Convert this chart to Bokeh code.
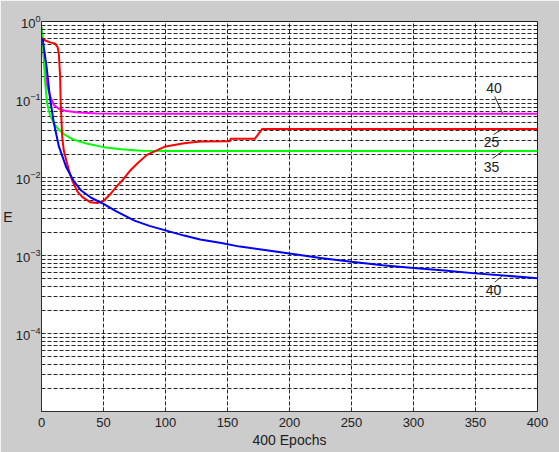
import numpy as np
from bokeh.plotting import figure
from bokeh.models import FixedTicker, LogTickFormatter
from bokeh.core.properties import value
from bokeh.embed import file_html
from bokeh.resources import INLINE

# ---- data ----
blue_epochs = [1, 2, 4, 7, 10, 14, 20, 26, 32, 40, 50, 60, 75, 87, 100, 115, 128, 145, 160,
               180, 200, 225, 250, 275, 300, 325, 350, 375, 400]
blue_values = [0.6, 0.45, 0.27, 0.1, 0.05, 0.025, 0.0135, 0.009, 0.0068, 0.0055, 0.0046,
               0.0037, 0.0028, 0.0024, 0.0021, 0.0018, 0.0016, 0.00145, 0.0013, 0.00118,
               0.00106, 0.00093, 0.00083, 0.00075, 0.00069, 0.00064, 0.00059, 0.00055, 0.00051]

pink_epochs = [0, 1, 2, 3, 4.5, 7, 10, 14, 20, 30, 45, 70, 400]
pink_values = [0.85, 0.55, 0.33, 0.22, 0.15, 0.11, 0.085, 0.076, 0.071, 0.068, 0.066, 0.0655, 0.0655]

green_epochs = [0, 1, 2, 3, 4.5, 7, 10, 14, 18, 25, 37, 50, 64, 80, 100, 400]
green_values = [0.85, 0.55, 0.3, 0.16, 0.09, 0.062, 0.049, 0.041, 0.036, 0.031, 0.027, 0.0245,
                0.023, 0.022, 0.0218, 0.0218]

red_epochs = [0, 3, 7, 11, 13, 14, 15, 15.5, 16.7, 18, 20.7, 23, 26, 29, 33, 39.5, 45, 50, 55,
              61, 66, 71, 77, 85, 100, 115, 128, 152, 152.5, 172, 178, 400]
red_values = [0.62, 0.57, 0.54, 0.52, 0.47, 0.38, 0.2, 0.09, 0.033, 0.022, 0.015, 0.011, 0.0083,
              0.0066, 0.0056, 0.0048, 0.0047, 0.005, 0.006, 0.0078, 0.0095, 0.012, 0.015, 0.0195,
              0.025, 0.0275, 0.029, 0.0292, 0.0313, 0.0313, 0.042, 0.042]

x_ticks = [0, 50, 100, 150, 200, 250, 300, 350, 400]
y_ticks = [1e-4, 1e-3, 1e-2, 1e-1, 1e0]
y_minor = [m * 10.0 ** e for e in range(-5, 0) for m in range(2, 10)]

curve_labels = ["40", "25", "35", "40"]
x_title = "400 Epochs"
y_title = "E"

GRAY = "#cccccc"
FONT = "Liberation Sans"

p = figure(frame_width=496, frame_height=390, y_axis_type="log",
           x_range=(0, 400), y_range=(1e-5, 1),
           output_backend="svg", toolbar_location=None,
           min_border_left=41, min_border_right=22, min_border_top=21, min_border_bottom=41,
           border_fill_color=GRAY, background_fill_color="white",
           outline_line_color="#202020", outline_line_width=1)

# grids
p.xgrid.ticker = FixedTicker(ticks=x_ticks)
p.ygrid.ticker = FixedTicker(ticks=y_ticks, minor_ticks=y_minor)
for g in (p.xgrid, p.ygrid):
    g.grid_line_color = "black"
    g.grid_line_dash = "4 2"
    g.grid_line_width = 1
    g.grid_line_alpha = 0.85
p.ygrid.minor_grid_line_color = "black"
p.ygrid.minor_grid_line_dash = "4 2"
p.ygrid.minor_grid_line_alpha = 0.85

# axes
p.xaxis.ticker = FixedTicker(ticks=x_ticks)
p.yaxis.ticker = FixedTicker(ticks=y_ticks, minor_ticks=y_minor)
p.yaxis.formatter = LogTickFormatter()
for ax in (p.xaxis, p.yaxis):
    ax.axis_line_color = "#303030"
    ax.major_tick_in = 4
    ax.major_tick_out = 0
    ax.minor_tick_in = 2
    ax.minor_tick_out = 0
    ax.major_tick_line_color = "#303030"
    ax.minor_tick_line_color = "#303030"
    ax.major_label_text_font = FONT
    ax.major_label_text_font_size = "13px"
    ax.major_label_text_color = "#202020"
    ax.axis_label_text_font = FONT
    ax.axis_label_text_font_size = "14px"
    ax.axis_label_text_font_style = "normal"
    ax.axis_label_text_color = "#202020"
p.xaxis.major_label_standoff = 6
p.yaxis.major_label_standoff = 1
p.xaxis.minor_tick_in = 0

p.xaxis.axis_label = x_title
p.xaxis.axis_label_standoff = 2
p.yaxis.axis_label = y_title
p.yaxis.axis_label_standoff = 0
try:
    p.yaxis.axis_label_orientation = "horizontal"
except Exception:
    pass

# curves
p.line(pink_epochs, pink_values, line_color="#ff00ff", line_width=2)
p.line(green_epochs, green_values, line_color="#00ff00", line_width=2)
p.line(red_epochs, red_values, line_color="#ff0000", line_width=2)
p.line(blue_epochs, blue_values, line_color="#0000ff", line_width=2)

# curve labels with leader lines, anchored on each curve at epoch 372
anchor_epoch = 372
series = [(pink_epochs, pink_values), (red_epochs, red_values),
          (green_epochs, green_values), (blue_epochs, blue_values)]
leader_dx = [-6.5, -7.5, -8.3, -6.5]
leader_dlog = [0.224, -0.073, -0.096, -0.086]
text_dx = [-7, -9, -9, -7.5]
text_dlog = [0.33, -0.17, -0.2, -0.18]

x0s, y0s, x1s, y1s, tx, ty = [], [], [], [], [], []
for (ex, vy), ldx, ldl, tdx, tdl in zip(series, leader_dx, leader_dlog, text_dx, text_dlog):
    a = 10 ** np.interp(anchor_epoch, ex, np.log10(vy))
    x0s.append(anchor_epoch); y0s.append(a)
    x1s.append(anchor_epoch + ldx); y1s.append(a * 10 ** ldl)
    tx.append(anchor_epoch + tdx); ty.append(a * 10 ** tdl)

p.segment(x0s, y0s, x1s, y1s, line_color="#303030", line_width=1)
p.text(tx, ty, text=curve_labels, text_font=value(FONT), text_font_size="14px",
       text_color="#202020", text_align="center", text_baseline="middle")

open("out.html", "w").write(file_html(p, INLINE))
